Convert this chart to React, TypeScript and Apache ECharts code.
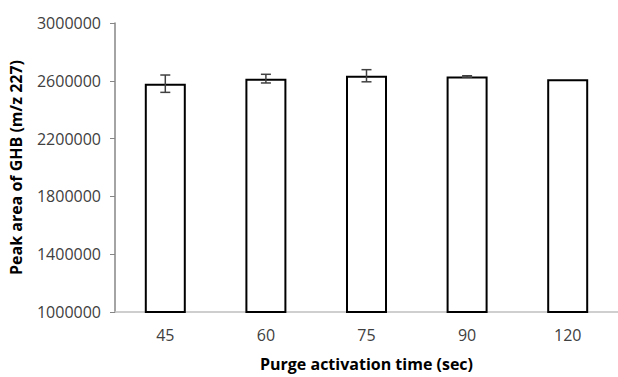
import React, { useEffect, useRef } from "react";
import * as echarts from "echarts";

const categories = ["45", "60", "75", "90", "120"];
const peakArea = [2580000, 2615000, 2635000, 2630000, 2610000];
const errorSD = [60000, 30000, 42000, 5000, 0];
const yTicks = { min: 1000000, max: 3000000, interval: 400000 };

export default function App() {
  const ref = useRef<HTMLDivElement>(null);
  useEffect(() => {
    if (!ref.current) return;
    const chart = echarts.init(ref.current, null, { renderer: "svg" });
    const errData = categories.map((c, i) => [i, peakArea[i] - errorSD[i], peakArea[i] + errorSD[i]]);
    chart.setOption({
      animation: false,
      backgroundColor: "#ffffff",
      grid: { left: 114, top: 23, width: 510, height: 293, containLabel: false },
      xAxis: {
        type: "category",
        data: categories,
        axisLine: { lineStyle: { color: "#bfbfbf", width: 1.5 } },
        axisTick: { show: false },
        axisLabel: { color: "#404040", fontSize: 16, fontFamily: "Open Sans", margin: 15 },
        name: "Purge activation time (sec)",
        nameLocation: "middle",
        nameGap: 44,
        nameTextStyle: { color: "#000", fontSize: 16, fontWeight: "bold", fontFamily: "Open Sans" },
      },
      yAxis: {
        type: "value",
        min: yTicks.min,
        max: yTicks.max,
        interval: yTicks.interval,
        splitLine: { show: false },
        axisLine: { show: true, lineStyle: { color: "#868686", width: 1.5 } },
        axisTick: { show: true, length: 5, lineStyle: { color: "#868686" } },
        axisLabel: {
          color: "#404040",
          fontSize: 16,
          fontFamily: "Open Sans",
          margin: 14,
          formatter: (v: number) => String(v),
        },
        name: "Peak area of GHB (m/z 227)",
        nameLocation: "middle",
        nameGap: 91,
        nameTextStyle: { color: "#000", fontSize: 16, fontWeight: "bold", fontFamily: "Open Sans" },
      },
      series: [
        {
          type: "bar",
          data: peakArea,
          barWidth: 41,
          itemStyle: { color: "#ffffff", borderColor: "#000000", borderWidth: 2 },
        },
        {
          type: "custom",
          data: errData,
          z: 10,
          renderItem: (params: any, api: any) => {
            const x = api.value(0);
            const lo = api.coord([x, api.value(1)]);
            const hi = api.coord([x, api.value(2)]);
            if (Math.abs(hi[1] - lo[1]) < 0.5) return null;
            const w = 5;
            const style = { stroke: "#404040", lineWidth: 1.5 };
            return {
              type: "group",
              children: [
                { type: "line", shape: { x1: lo[0], y1: lo[1], x2: hi[0], y2: hi[1] }, style },
                { type: "line", shape: { x1: lo[0] - w, y1: lo[1], x2: lo[0] + w, y2: lo[1] }, style },
                { type: "line", shape: { x1: hi[0] - w, y1: hi[1], x2: hi[0] + w, y2: hi[1] }, style },
              ],
            };
          },
        },
      ],
    });
    return () => chart.dispose();
  }, []);
  return <div ref={ref} style={{ width: 618, height: 377, position: "absolute", left: 0, top: 0 }} />;
}
